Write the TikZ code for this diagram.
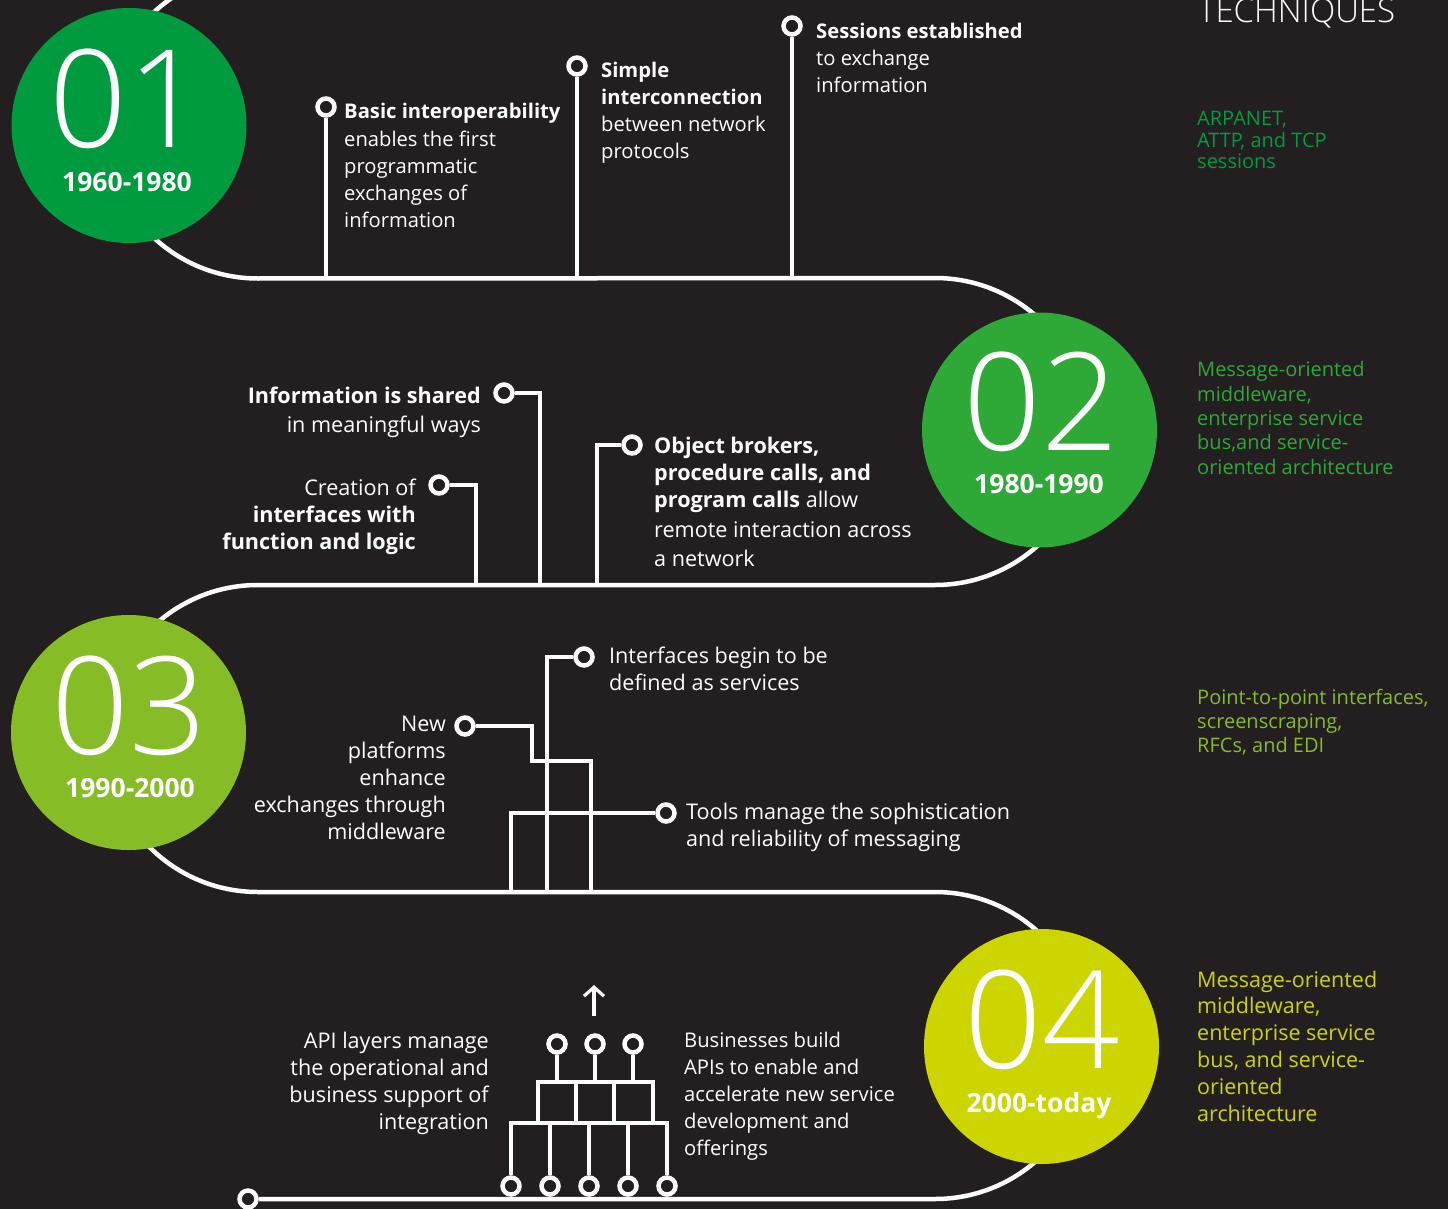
\documentclass[tikz,border=0pt]{standalone}
\usepackage{fontspec}
\setmainfont{Open Sans}
\newfontfamily\lightfont{Open Sans Light}
\usetikzlibrary{arrows.meta}
\definecolor{bg}{HTML}{231F20}
\definecolor{cA}{HTML}{009B3E}
\definecolor{cB}{HTML}{2EA836}
\definecolor{cC}{HTML}{86BC25}
\definecolor{cD}{HTML}{CDD500}
\tikzset{
 tl/.style={draw=white, line width=4.5pt},
 conn/.style={draw=white, line width=4.5pt},
 pinnode/.style={circle, draw=white, line width=4.5pt, fill=bg, minimum size=17pt, inner sep=0pt},
 era/.style={circle, minimum size=235pt, inner sep=0pt},
 num/.style={font=\lightfont\fontsize{136}{136}\selectfont, text=white, anchor=base, inner sep=0pt, text depth=0pt},
 yr/.style={font=\bfseries\fontsize{26.5}{30}\selectfont, text=white, anchor=base, inner sep=0pt},
 body/.style={font=\fontsize{20.2}{27}\selectfont, text=white, inner sep=0pt},
 bigbody/.style={font=\fontsize{21.6}{27}\selectfont},
 bl/.style={body, anchor=base west, align=left},
 br/.style={body, anchor=base east, align=right},
 tech/.style={anchor=base west, align=left, inner sep=0pt},
}
\begin{document}
\begin{tikzpicture}[x=1pt,y=-1pt]
\useasboundingbox (0,0) rectangle (1448,1209);
\fill[bg] (0,0) rectangle (1448,1209);

% start pin and timeline
\node[pinnode] (s0) at (248,1199) {};
\draw[tl] (258,-28.5) arc[start angle=270, end angle=90, radius=153.5]
  -- (935,278) arc[start angle=-90, end angle=90, radius=153.5]
  -- (258,585) arc[start angle=270, end angle=90, radius=153.5]
  -- (935,892) arc[start angle=-90, end angle=90, radius=153.5]
  -- (s0.east);

% era circles
\node[era, fill=cA] (c1) at (129,125.5) {};
\node[era, fill=cB] (c2) at (1039.5,430) {};
\node[era, fill=cC] (c3) at (128.5,732.5) {};
\node[era, fill=cD] (c4) at (1041.5,1046.5) {};
\node[num] (n1) at (127,148) {01};
\node[yr]  (y1) at (127,192) {1960-1980};
\node[num] (n2) at (1041.5,450) {02};
\node[yr]  (y2) at (1039,493) {1980-1990};
\node[num] (n3) at (129,754) {03};
\node[yr]  (y3) at (130,797) {1990-2000};
\node[num] (n4) at (1042,1068) {04};
\node[yr]  (y4) at (1039,1112) {2000-today};

% timeline anchor coordinates
\coordinate (L1) at (0,278);
\coordinate (L2) at (0,585);
\coordinate (L3) at (0,892);

% section 1
\node[pinnode] (pB) at (326,107) {};
\node[pinnode] (pSi) at (577,66) {};
\node[pinnode] (pSe) at (792,26) {};
\draw[conn] (pB.south) -- (pB |- L1);
\draw[conn] (pSi.south) -- (pSi |- L1);
\draw[conn] (pSe.south) -- (pSe |- L1);
\node[bl] (tB) at (344,227) {{\bfseries Basic interoperability}\\enables the first\\programmatic\\exchanges of\\information};
\node[bl] (tSi) at (601,159) {{\bfseries Simple}\\{\bfseries interconnection}\\between network\\protocols};
\node[bl] (tSe) at (816,93) {{\bfseries Sessions established}\\to exchange\\information};

% section 2
\node[pinnode] (pS) at (504,393) {};
\node[pinnode] (pC) at (439,485) {};
\node[pinnode] (pO) at (632,445) {};
\coordinate (b2a) at (540,585);
\coordinate (b2b) at (476,585);
\coordinate (b2c) at (597,585);
\draw[conn] (pS.east) -| (b2a);
\draw[conn] (pC.east) -| (b2b);
\draw[conn] (pO.west) -| (b2c);
\node[br, bigbody] (tS) at (481,432) {{\bfseries Information is shared}\\[1.5pt]in meaningful ways};
\node[br, bigbody] (tC) at (416,549) {Creation of\\{\bfseries interfaces with}\\{\bfseries function and logic}};
\node[bl, bigbody] (tO) at (654,566) {{\bfseries Object brokers,}\\{\bfseries procedure calls, and}\\{\bfseries program calls} allow\\[3pt]remote interaction across\\[2pt]a network};

% section 3
\node[pinnode] (pI) at (584,657) {};
\node[pinnode] (pN) at (465,726) {};
\node[pinnode] (pT) at (666,813) {};
\coordinate (b3a) at (547,892);
\coordinate (b3b) at (591,892);
\coordinate (b3c) at (511,892);
\coordinate (k3) at (532,761);
\draw[conn] (pI.west) -| (b3a);
\draw[conn] (pN.east) -| (k3) -| (b3b);
\draw[conn] (pT.west) -| (b3c);
\node[bl, bigbody] (tI) at (609,690) {Interfaces begin to be\\defined as services};
\node[br, bigbody] (tN) at (446,839) {New\\platforms\\enhance\\exchanges through\\middleware};
\node[bl, bigbody] (tT) at (686,846) {Tools manage the sophistication\\and reliability of messaging};

% section 4
\coordinate (boxtop) at (0,1082);
\coordinate (boxbot) at (0,1123);
\node[pinnode] (t1) at (557,1044) {};
\node[pinnode] (t2) at (595,1044) {};
\node[pinnode] (t3) at (633,1044) {};
\node[pinnode] (u1) at (511,1186) {};
\node[pinnode] (u2) at (550,1186) {};
\node[pinnode] (u3) at (589,1186) {};
\node[pinnode] (u4) at (628,1186) {};
\node[pinnode] (u5) at (667,1186) {};
\draw[conn] (t1.south) -- (t1 |- boxtop);
\draw[conn] (t2.south) -- (t2 |- boxtop);
\draw[conn] (t3.south) -- (t3 |- boxtop);
\draw[conn] (538,1123) -- (538,1082) -- (653,1082) -- (653,1123);
\draw[conn] (576,1082) -- (576,1123);
\draw[conn] (614,1082) -- (614,1123);
\draw[conn] (u1.north) -- (u1 |- boxbot) -- (u5 |- boxbot) -- (u5.north);
\draw[conn] (u2.north) -- (u2 |- boxbot);
\draw[conn] (u3.north) -- (u3 |- boxbot);
\draw[conn] (u4.north) -- (u4 |- boxbot);
\coordinate (arrA) at (594,1016);
\coordinate (arrB) at (594,985);
\draw[white, line width=3.2pt, -{Straight Barb[length=9pt,width=20pt]}] (arrA) -- (arrB);
\node[br, bigbody] (tA) at (489,1129) {API layers manage\\the operational and\\business support of\\integration};
\node[bl] (tBu) at (684,1155) {Businesses build\\APIs to enable and\\accelerate new service\\development and\\offerings};

% techniques column
\node[tech, font=\lightfont\fontsize{33}{33}\selectfont, text=white] (tt) at (1198,23) {TECHNIQUES};
\node[tech, font=\fontsize{20}{21.5}\selectfont, text=cA] (k1) at (1197,169) {ARPANET,\\ATTP, and TCP\\sessions};
\node[tech, font=\fontsize{20}{24.3}\selectfont, text=cB] (k2) at (1197,474) {Message-oriented\\middleware,\\enterprise service\\bus,and service-\\oriented architecture};
\node[tech, font=\fontsize{20}{24}\selectfont, text=cC] (k3t) at (1197,752) {Point-to-point interfaces,\\screenscraping,\\RFCs, and EDI};
\node[tech, font=\fontsize{21.5}{26.8}\selectfont, text=cD] (k4) at (1197,1121) {Message-oriented\\middleware,\\enterprise service\\bus, and service-\\oriented\\architecture};
\end{tikzpicture}
\end{document}
